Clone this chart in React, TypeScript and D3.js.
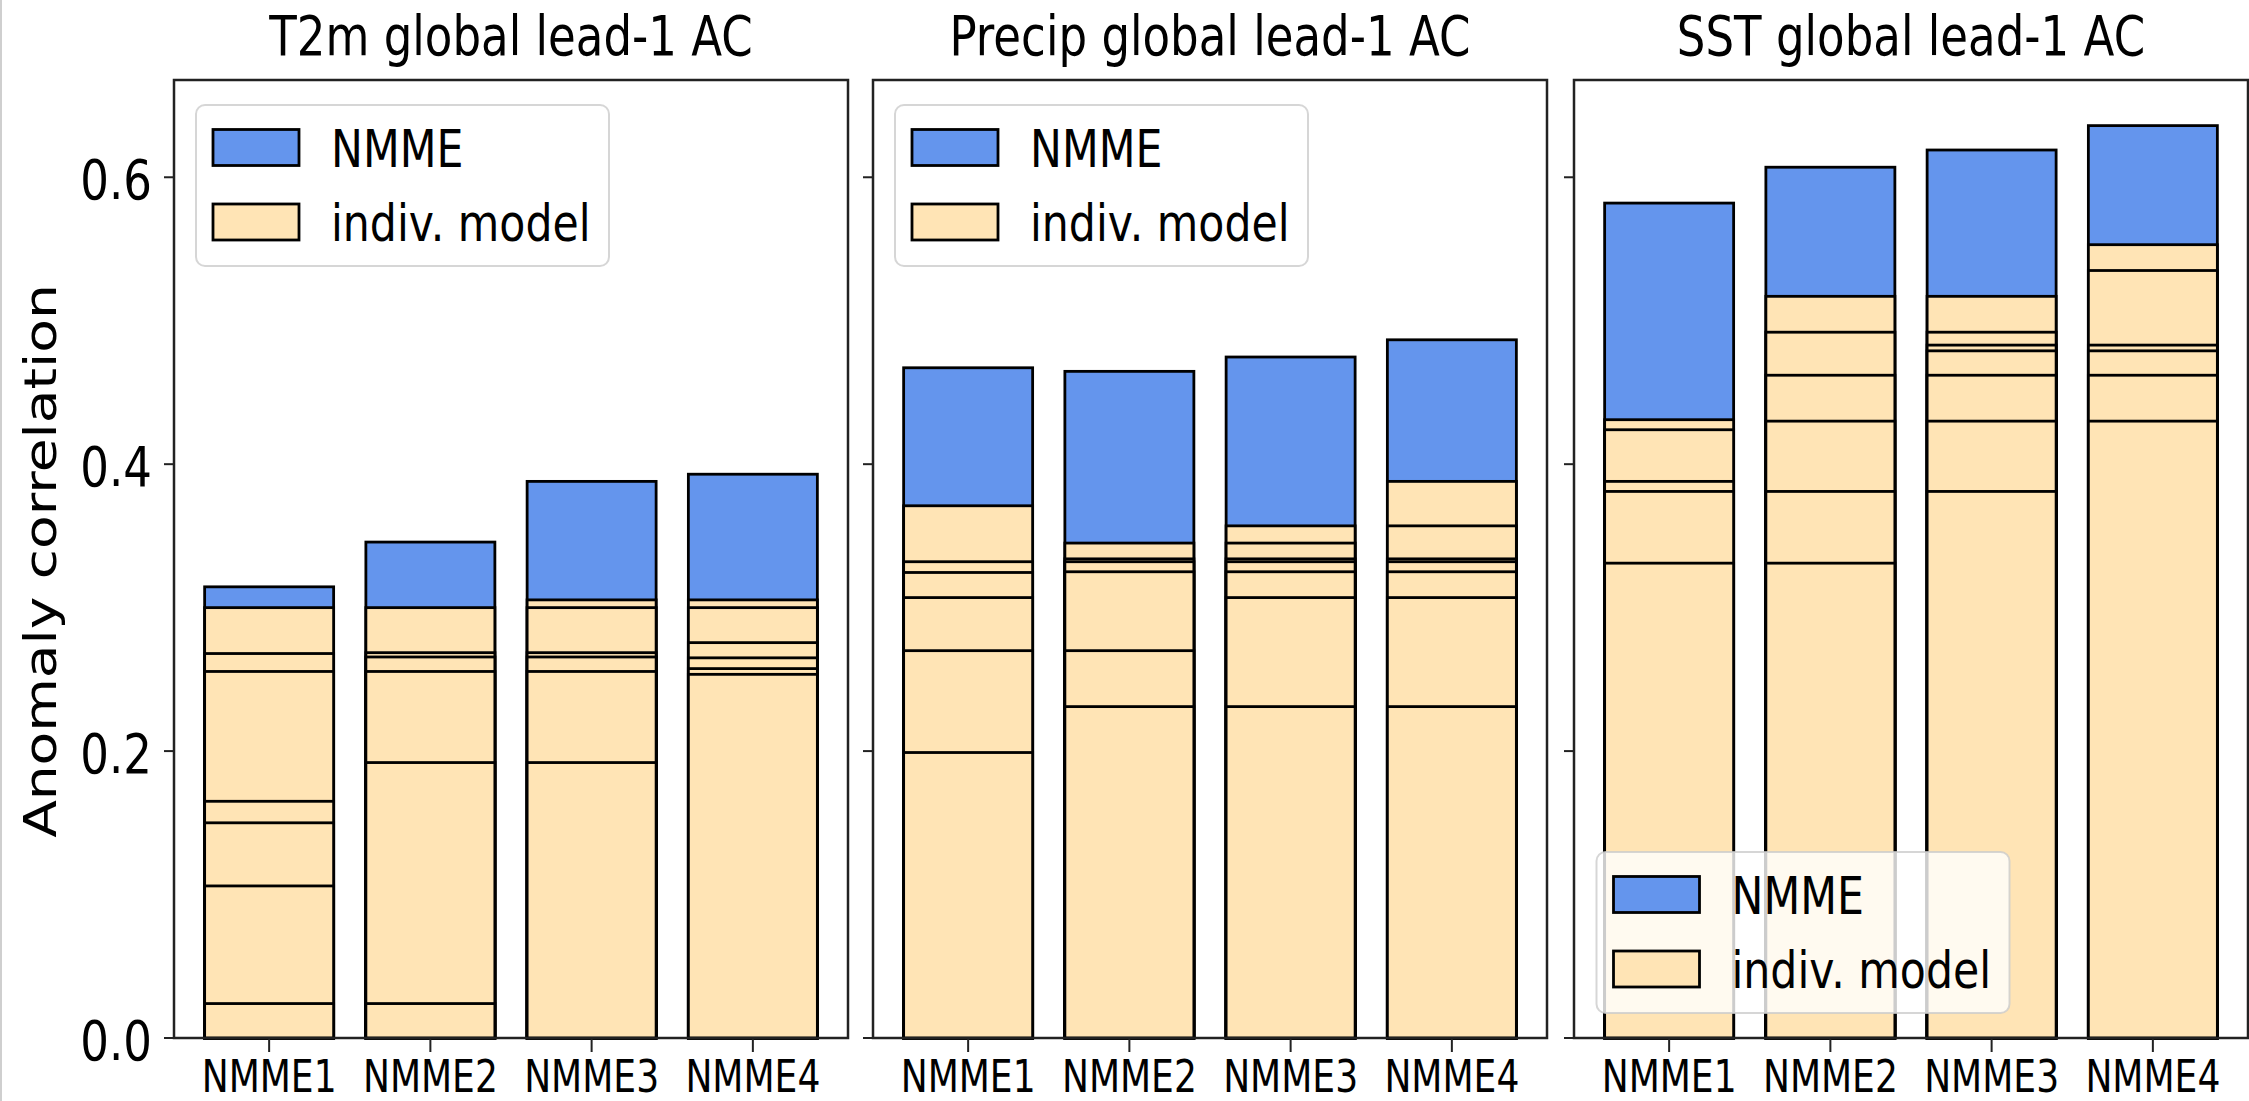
import React from "react";
import * as d3 from "d3";

const categories = ["NMME1", "NMME2", "NMME3", "NMME4"];
const panelTitles = ["T2m global lead-1 AC", "Precip global lead-1 AC", "SST global lead-1 AC"];
const yTicks = [0, 0.2, 0.4, 0.6];
const legendLabels = ["NMME", "indiv. model"];

// NMME (multi-model ensemble) anomaly correlation per NMME version
const t2mNmme = [0.3145, 0.3457, 0.388, 0.393];
const precipNmme = [0.4672, 0.4647, 0.4747, 0.4867];
const sstNmme = [0.582, 0.607, 0.619, 0.636];

// individual model anomaly correlations per NMME version
const t2mModels = [
  [0.3, 0.268, 0.2555, 0.165, 0.15, 0.106, 0.024],
  [0.3, 0.2686, 0.2656, 0.2555, 0.192, 0.024],
  [0.3054, 0.3, 0.2686, 0.2656, 0.2555, 0.192],
  [0.3054, 0.3, 0.2756, 0.265, 0.2575, 0.2535],
];
const precipModels = [
  [0.371, 0.332, 0.3245, 0.307, 0.27, 0.199],
  [0.345, 0.334, 0.332, 0.325, 0.27, 0.231],
  [0.357, 0.345, 0.334, 0.332, 0.325, 0.307, 0.231],
  [0.388, 0.357, 0.334, 0.332, 0.325, 0.307, 0.231],
];
const sstModels = [
  [0.431, 0.424, 0.388, 0.381, 0.331],
  [0.517, 0.492, 0.462, 0.43, 0.381, 0.331],
  [0.517, 0.492, 0.483, 0.479, 0.462, 0.43, 0.381],
  [0.553, 0.535, 0.483, 0.479, 0.462, 0.43],
];

const W = 2249;
const H = 1101;
const SX = 0.82;
const FONT = "DejaVu Sans";
const BLUE = "#6495ED";
const BEIGE = "#FFE4B5";
const panelLefts = [174, 873, 1574];
const panelW = 674;
const top = 80;
const bottom = 1038;

type TxtProps = {
  x: number;
  y: number;
  size: number;
  anchor?: string;
  rot?: boolean;
  children: React.ReactNode;
};
function Txt({ x, y, size, anchor = "start", rot = false, children }: TxtProps) {
  return (
    <text
      transform={`translate(${x},${y}) scale(${SX},1)${rot ? " rotate(-90)" : ""}`}
      fontFamily={FONT}
      fontSize={size}
      textAnchor={anchor}
      fill="#000"
    >
      {children}
    </text>
  );
}

function Legend({ x, y }: { x: number; y: number }) {
  const w = 413;
  const h = 161;
  const rows = [BLUE, BEIGE];
  return (
    <g>
      <rect x={x} y={y} width={w} height={h} rx={9} ry={9} fill="#fff" fillOpacity={0.8} stroke="#cccccc" strokeOpacity={0.8} strokeWidth={2} />
      {rows.map((c, i) => {
        const cy = y + 42.5 + i * 74.5;
        return (
          <g key={i}>
            <rect x={x + 17} y={cy - 18} width={86} height={36} fill={c} stroke="#000" strokeWidth={2.8} />
            <Txt x={x + 135} y={cy + 19} size={52}>
              {legendLabels[i]}
            </Txt>
          </g>
        );
      })}
    </g>
  );
}

export default function App() {
  const nmmeAll = [t2mNmme, precipNmme, sstNmme];
  const modelsAll = [t2mModels, precipModels, sstModels];
  const yMax = (d3.max(nmmeAll.flat()) as number) * 1.05;
  const y = d3.scaleLinear().domain([0, yMax]).range([bottom, top]);

  return (
    <svg width={W} height={H} style={{ position: "absolute", left: 0, top: 0, background: "#fff" }}>
      <rect x={0} y={0} width={W} height={H} fill="#fff" />
      <line x1={1} x2={1} y1={0} y2={H} stroke="#cfcfcf" strokeWidth={2} />
      {panelLefts.map((pl, p) => {
        const x = d3
          .scaleBand<string>()
          .domain(categories)
          .range([pl, pl + panelW])
          .paddingInner(0.2)
          .paddingOuter(0.19);
        const bw = x.bandwidth();
        return (
          <g key={p}>
            <Txt x={pl + panelW / 2} y={55} size={55} anchor="middle">
              {panelTitles[p]}
            </Txt>
            {categories.map((c, i) => {
              const x0 = x(c) as number;
              const models = [...modelsAll[p][i]].sort((a, b) => b - a);
              return (
                <g key={c}>
                  <rect
                    x={x0}
                    y={y(nmmeAll[p][i])}
                    width={bw}
                    height={y(0) - y(nmmeAll[p][i])}
                    fill={BLUE}
                    stroke="#000"
                    strokeWidth={2.8}
                  />
                  {models.map((v, k) => (
                    <rect key={k} x={x0} y={y(v)} width={bw} height={y(0) - y(v)} fill={BEIGE} stroke="#000" strokeWidth={2.8} />
                  ))}
                </g>
              );
            })}
            {p === 2 ? <Legend x={pl + 22.5} y={852} /> : <Legend x={pl + 22} y={105} />}
            <rect x={pl} y={top} width={panelW} height={bottom - top} fill="none" stroke="#222" strokeWidth={2.5} />
            {yTicks.map((t) => (
              <g key={t}>
                <line x1={pl - 10} x2={pl} y1={y(t)} y2={y(t)} stroke="#222" strokeWidth={2} />
                {p === 0 && (
                  <Txt x={152} y={y(t) + 22} size={55} anchor="end">
                    {t.toFixed(1)}
                  </Txt>
                )}
              </g>
            ))}
            {categories.map((c) => {
              const cx = (x(c) as number) + bw / 2;
              return (
                <g key={c}>
                  <line x1={cx} x2={cx} y1={bottom} y2={bottom + 14} stroke="#222" strokeWidth={2} />
                  <Txt x={cx} y={1092} size={44} anchor="middle">
                    {c}
                  </Txt>
                </g>
              );
            })}
          </g>
        );
      })}
      <Txt x={56} y={(top + bottom) / 2 + 2} size={55} anchor="middle" rot>
        Anomaly correlation
      </Txt>
    </svg>
  );
}
